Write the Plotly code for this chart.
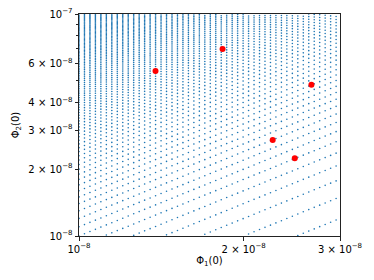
import numpy as np
import plotly.graph_objects as go

# scan grid: Phi1 columns on a log step, Phi2 = ratio * Phi1
PHI1_EXP_START = -8.0
PHI1_EXP_STEP = 0.01
PHI1_COUNT = 49
RATIO_START = 0.3
RATIO_STEP = 0.1
RATIO_COUNT = 98

# highlighted solutions
sol_phi1 = [1.38e-8, 1.83e-8, 2.66e-8, 2.26e-8, 2.48e-8]
sol_phi2 = [5.54e-8, 6.96e-8, 4.80e-8, 2.71e-8, 2.24e-8]

x_ticks = [1e-8, 2e-8, 3e-8]
x_ticktext = ["10<sup>−8</sup>", "2 × 10<sup>−8</sup>", "3 × 10<sup>−8</sup>"]
y_ticks = [1e-8, 2e-8, 3e-8, 4e-8, 6e-8, 1e-7]
y_ticktext = ["10<sup>−8</sup>", "2 × 10<sup>−8</sup>", "3 × 10<sup>−8</sup>",
              "4 × 10<sup>−8</sup>", "6 × 10<sup>−8</sup>", "10<sup>−7</sup>"]
y_minor = [5e-8, 7e-8, 8e-8, 9e-8]

phi1 = 10 ** (PHI1_EXP_START + PHI1_EXP_STEP * np.arange(PHI1_COUNT))
ratio = RATIO_START + RATIO_STEP * np.arange(RATIO_COUNT)
gx, gr = np.meshgrid(phi1, ratio)
gy = gx * gr
keep = (gy >= 1e-8) & (gy <= 1e-7)

fig = go.Figure()
fig.add_trace(go.Scatter(
    x=gx[keep], y=gy[keep], mode="markers",
    marker=dict(size=1.6, color="#1f77b4", line=dict(width=0)),
    showlegend=False, hoverinfo="skip",
))
fig.add_trace(go.Scatter(
    x=sol_phi1, y=sol_phi2, mode="markers",
    marker=dict(size=6, color="red", line=dict(width=0)),
    showlegend=False,
))

axis_style = dict(
    type="log", showgrid=False, zeroline=False, automargin=False,
    showline=True, linecolor="#222", linewidth=1, mirror=True,
    ticks="outside", ticklen=3.5, tickwidth=0.8, tickcolor="#222",
    tickfont=dict(family="DejaVu Sans", size=10, color="black"),
)
fig.update_layout(
    width=374, height=280,
    margin=dict(l=79, r=34, t=14, b=44),
    plot_bgcolor="white", paper_bgcolor="white",
    font=dict(family="DejaVu Sans", size=10, color="black"),
)
fig.update_xaxes(
    **axis_style, range=[np.log10(1e-8), np.log10(3e-8)],
    tickvals=x_ticks, ticktext=x_ticktext,
    title=dict(text="Φ<sub>1</sub>(0)", standoff=2, font=dict(size=10)),
)
fig.update_yaxes(
    **axis_style, range=[-8, -7],
    tickvals=y_ticks, ticktext=y_ticktext,
    minor=dict(tickvals=y_minor, ticks="outside", ticklen=2, tickcolor="#222"),
    title=dict(text="Φ<sub>2</sub>(0)", standoff=6, font=dict(size=10)),
)

# drop the page's default body margin so the figure sits at the window corner
fig.write_html(
    "out.html",
    config={"displayModeBar": False},
    post_script="document.body.style.margin='0';",
)
